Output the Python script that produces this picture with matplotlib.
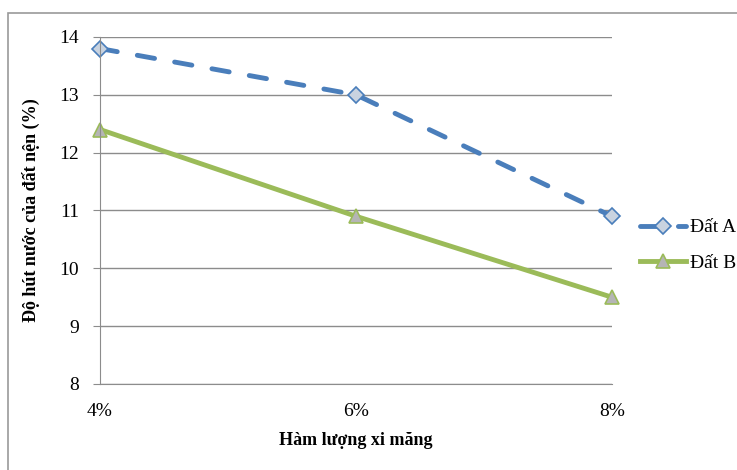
import matplotlib.pyplot as plt
from matplotlib.patches import Rectangle

plt.rcParams['font.family'] = ['Liberation Serif', 'DejaVu Serif']

x_labels = ["4%", "6%", "8%"]
dat_a = [13.8, 13.0, 10.9]
dat_b = [12.4, 10.9, 9.5]
x = [0, 1, 2]

fig = plt.figure(figsize=(7.37, 4.70), dpi=100)
ax = fig.add_axes([0.1357, 0.183, 0.8304 - 0.1357, 0.9213 - 0.183])

# outer chart frame
fig.patches.append(Rectangle((0.011, -0.05), 1.2, 0.972 + 0.05, transform=fig.transFigure,
                             fill=False, edgecolor="#9a9a9a", linewidth=1.2))

ax.plot(x, dat_a, color="#4a7ebb", linewidth=3.5, linestyle=(0, (3.6, 4.2)),
        marker="D", markersize=8, markerfacecolor="#c9d3e0", markeredgecolor="#4a7ebb",
        markeredgewidth=1.2, label="Đất A", dash_capstyle="round", clip_on=False)
ax.plot(x, dat_b, color="#9bbb59", linewidth=3.5,
        marker="^", markersize=10, markerfacecolor="#b5b5b5", markeredgecolor="#9bbb59",
        markeredgewidth=1.2, label="Đất B", clip_on=False)

ax.set_xlim(0, 2)
ax.set_ylim(8, 14)
ax.set_yticks(range(8, 15))
ax.set_xticks(x)
ax.set_xticklabels(x_labels)
ax.grid(axis="y", color="#8c8c8c", linewidth=1)
ax.set_axisbelow(True)
for s in ["top", "right"]:
    ax.spines[s].set_visible(False)
ax.spines["left"].set_color("#8c8c8c")
ax.spines["bottom"].set_color("#8c8c8c")
ax.tick_params(axis="y", length=5, color="#8c8c8c", labelsize=14, pad=10)
ax.tick_params(axis="x", length=0, labelsize=14, pad=14)
ax.set_xlabel("Hàm lượng xi măng", fontsize=13, fontweight="bold", labelpad=8)
ax.set_ylabel("Độ hút nước của đất nện (%)", fontsize=13, fontweight="bold", labelpad=14)

ax.legend(loc="center left", bbox_to_anchor=(1.02, 0.40), frameon=False, fontsize=14,
          handlelength=2.4, handletextpad=0.2, labelspacing=0.9)

plt.savefig("out.png", dpi=100)
